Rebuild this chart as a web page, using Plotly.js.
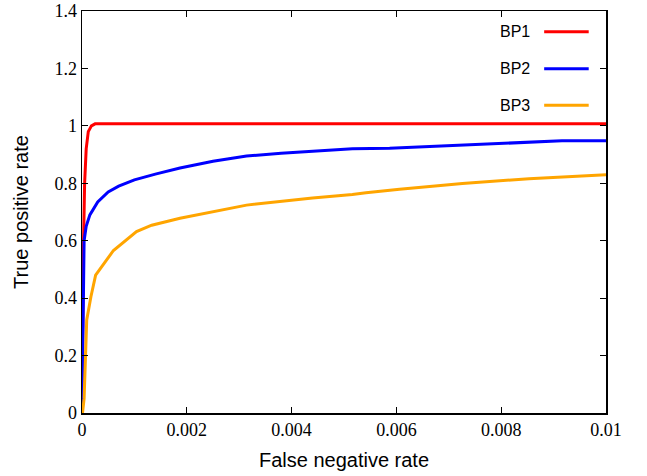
<!DOCTYPE html>
<html>
<head>
<meta charset="utf-8">
<script src="https://cdn.plot.ly/plotly-3.0.1.min.js"></script>
<style>html,body{margin:0;padding:0;background:#fff;}#chart{width:647px;height:476px;}</style>
</head>
<body>
<div id="chart"></div>
<script>
const seriesNames = ["BP1", "BP2", "BP3"];
const seriesColors = ["#ff0000", "#0000ff", "#ffa500"];

const xBP1 = [0, 0.00001, 0.00003, 0.00005, 0.00008, 0.00012, 0.00018, 0.00025, 0.0004, 0.01];
const yBP1 = [0.04, 0.3, 0.6, 0.8, 0.92, 0.98, 1.0, 1.007, 1.007, 1.007];

const xBP2 = [0, 0.00002, 0.00004, 0.00008, 0.00015, 0.0003, 0.0005, 0.0007, 0.001, 0.0014, 0.00187, 0.0025, 0.00314, 0.0038, 0.0044, 0.00516, 0.00587, 0.00726, 0.00853, 0.00916, 0.01];
const yBP2 = [0, 0.3, 0.6, 0.65, 0.69, 0.735, 0.77, 0.79, 0.812, 0.832, 0.853, 0.877, 0.895, 0.905, 0.912, 0.92, 0.922, 0.933, 0.943, 0.948, 0.948];

const xBP3 = [0, 0.00001, 0.00004, 0.00009, 0.00017, 0.00026, 0.0006, 0.00104, 0.00133, 0.00187, 0.00314, 0.0044, 0.00516, 0.00542, 0.00606, 0.00726, 0.00853, 0.01];
const yBP3 = [0, 0.0, 0.05, 0.324, 0.405, 0.48, 0.566, 0.632, 0.654, 0.678, 0.724, 0.749, 0.761, 0.767, 0.779, 0.799, 0.816, 0.83];

const xTicks = [0, 0.002, 0.004, 0.006, 0.008, 0.01];
const xTickText = ["0", "0.002", "0.004", "0.006", "0.008", "0.01"];
const yTicks = [0, 0.2, 0.4, 0.6, 0.8, 1, 1.2, 1.4];
const yTickText = ["0", "0.2", "0.4", "0.6", "0.8", "1", "1.2", "1.4"];

const xs = [xBP1, xBP2, xBP3];
const ys = [yBP1, yBP2, yBP3];

const traces = seriesNames.map((n, i) => ({
  x: xs[i], y: ys[i], name: n, type: "scatter", mode: "lines",
  line: {color: seriesColors[i], width: 3}, showlegend: false, cliponaxis: true
}));

// Legend drawn gnuplot-style: label on the left, line sample on the right
const legY = [0.9485, 0.8565, 0.7654];
const shapes = seriesNames.map((n, i) => ({
  type: "line", xref: "paper", yref: "paper",
  x0: 0.882, x1: 0.967, y0: legY[i], y1: legY[i],
  line: {color: seriesColors[i], width: 3}
}));
const annotations = seriesNames.map((n, i) => ({
  text: n, xref: "paper", yref: "paper", x: 0.858, y: legY[i],
  xanchor: "right", yanchor: "middle", showarrow: false,
  font: {family: "Liberation Sans, Arial, sans-serif", size: 16, color: "#000"}
}));

const axisCommon = {
  showline: true, linecolor: "#000", linewidth: 1.5, mirror: "ticks",
  ticks: "inside", ticklen: 6, tickwidth: 1, tickcolor: "#000",
  showgrid: false, zeroline: false, ticklabeloverflow: "allow",
  tickfont: {family: "Liberation Serif, Times New Roman, serif", size: 18, color: "#000"}
};

const layout = {
  width: 647, height: 476,
  margin: {l: 81.5, r: 41, t: 11, b: 63},
  paper_bgcolor: "#fff", plot_bgcolor: "#fff",
  xaxis: Object.assign({}, axisCommon, {
    range: [0, 0.01], tickmode: "array", tickvals: xTicks, ticktext: xTickText,
    title: {text: "False negative rate", font: {family: "Liberation Sans, Arial, sans-serif", size: 20, color: "#000"}, standoff: 14}
  }),
  yaxis: Object.assign({}, axisCommon, {
    range: [0, 1.4], tickmode: "array", tickvals: yTicks, ticktext: yTickText,
    title: {text: "True positive rate", font: {family: "Liberation Sans, Arial, sans-serif", size: 20, color: "#000"}, standoff: 20}
  }),
  shapes: shapes,
  annotations: annotations,
  showlegend: false
};

Plotly.newPlot("chart", traces, layout, {displayModeBar: false, staticPlot: true});
</script>
</body>
</html>
